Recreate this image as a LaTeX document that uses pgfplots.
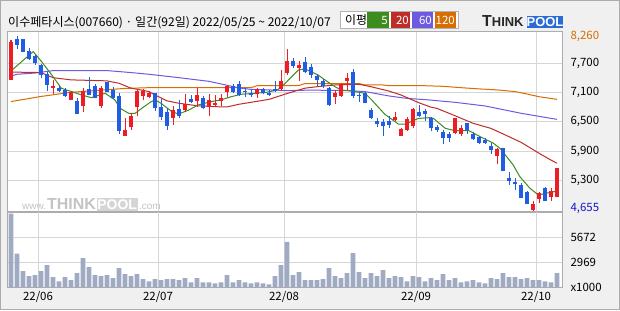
\documentclass[border=0pt]{standalone}
\usepackage{pgfplots}
\pgfplotsset{compat=1.18}
\usepackage{pgfplotstable}
\usepackage{fontspec}
\setmainfont{Noto Sans CJK KR}
\newfontfamily\logofont{Liberation Sans}

\definecolor{bgcol}{RGB}{240,240,240}
\definecolor{upred}{RGB}{238,28,36}
\definecolor{downblue}{RGB}{32,92,228}
\definecolor{volcol}{RGB}{160,170,195}
\definecolor{mafive}{RGB}{60,140,30}
\definecolor{matwenty}{RGB}{190,45,40}
\definecolor{masixty}{RGB}{110,90,225}
\definecolor{maonetwenty}{RGB}{215,110,0}
\definecolor{minblue}{RGB}{20,20,210}
\definecolor{logoblue}{RGB}{42,108,214}
\definecolor{wmgray}{RGB}{195,195,195}

\pgfplotstableread{
i o h l c
0 7358 8179 7358 8131
7 7200 7350 7070 7225
10 6950 7130 6950 7120
12 6820 7190 6710 7140
15 6820 7240 6780 7200
19 6215 6570 6215 6325
20 6395 6675 6340 6625
21 6800 7165 6625 7135
22 7035 7165 6950 7135
23 7000 7140 6980 7085
27 6585 6820 6435 6735
29 6735 7065 6695 6870
31 6925 7185 6805 7045
33 6800 7065 6620 6950
34 6840 7050 6825 6885
35 6925 7075 6830 6980
36 7110 7255 7005 7240
41 7065 7200 6995 7180
45 7175 7570 7130 7345
46 7495 7985 7460 7755
48 7605 7750 7340 7660
54 7010 7145 6865 7085
55 7030 7305 7015 7270
56 7340 7495 7155 7390
64 6540 6710 6515 6605
65 6210 6380 6210 6355
66 6340 6590 6305 6555
67 6405 6780 6370 6755
74 6270 6585 6255 6570
75 6245 6440 6215 6365
81 5790 5955 5630 5940
87 4700 4880 4655 4810
88 4910 5065 4830 5045
90 4950 5135 4880 5090
91 4965 5545 4950 5545
}\upc

\pgfplotstableread{
i o h l c
1 8192 8260 7994 8076
2 8190 8195 7925 7940
3 7960 8020 7770 7790
4 7840 7870 7670 7700
5 7660 7680 7390 7460
6 7490 7530 7130 7250
8 7200 7255 7120 7125
9 7150 7200 7015 7030
11 6935 6980 6660 6660
13 7170 7420 7050 7050
14 7240 7280 6980 6995
16 7310 7325 7105 7120
17 7145 7220 6960 6980
18 7035 7085 6240 6320
24 7100 7100 6720 6780
25 6800 6965 6540 6595
26 6695 6775 6330 6415
28 6755 6950 6585 6620
30 6970 7050 6880 6905
32 6995 7035 6765 6780
37 7230 7270 7085 7120
38 7275 7330 7020 7040
39 7130 7200 7015 7105
40 7100 7165 7010 7055
42 7180 7200 7065 7100
43 7090 7145 7030 7050
44 7180 7345 7120 7140
47 7755 7800 7595 7645
49 7720 7825 7495 7520
50 7630 7680 7405 7460
51 7435 7460 7240 7350
52 7330 7370 7185 7240
53 7190 7210 6825 6840
57 7515 7580 6980 7025
58 7055 7100 6915 7030
59 7085 7105 6880 6885
60 6735 6775 6560 6585
61 6510 6570 6390 6455
62 6490 6560 6210 6410
63 6510 6615 6365 6435
68 6695 6850 6605 6620
69 6720 6765 6520 6665
70 6585 6605 6310 6365
71 6395 6435 6285 6330
72 6300 6330 6035 6160
73 6245 6285 6095 6160
76 6470 6480 6255 6325
77 6245 6300 6120 6140
78 6180 6215 6040 6060
79 6135 6175 6040 6060
80 6005 6060 5835 5915
82 5955 5955 5490 5490
83 5340 5465 5205 5290
84 5260 5340 5105 5230
85 5205 5240 4930 4945
86 5065 5080 4805 4810
89 5150 5170 4875 4880
}\downc

\pgfplotstableread{
i v
0 8195
1 3906
2 2032
3 1491
4 1599
5 2032
6 2681
7 1383
8 951
9 1383
10 1059
11 1816
12 3437
13 2464
14 1599
15 1491
16 1599
17 1275
18 2356
19 1708
20 1491
21 1708
22 1167
23 951
24 1167
25 1059
26 1167
27 1167
28 1059
29 1275
30 843
31 1275
32 843
33 843
34 735
35 843
36 1599
37 843
38 1059
39 843
40 735
41 843
42 735
43 626
44 1491
45 2681
46 5167
47 1599
48 1924
49 1059
50 1059
51 1059
52 1167
53 2356
54 1491
55 1275
56 1816
57 3978
58 1924
59 1275
60 1816
61 1491
62 2140
63 1275
64 1491
65 1383
66 951
67 1491
68 1383
69 951
70 1275
71 1059
72 1708
73 1059
74 1275
75 843
76 951
77 1059
78 843
79 735
80 1275
81 1167
82 1816
83 1383
84 1383
85 1167
86 1275
87 1059
88 1059
89 951
90 843
91 1816
}\vol

\pgfplotsset{
  candle/.style 2 args={draw=none, mark=none, forget plot, color=#1,
    error bars/.cd, y dir=plus, y explicit, error mark=none,
    error bar style={draw=#1, line width=#2, line cap=butt}},
}

\begin{document}
\begin{tikzpicture}[x=1bp,y=1bp]
\useasboundingbox (0,0) rectangle (620,310);
\fill[bgcol] (0,0) rectangle (620,310);
\draw[gray!65, line width=1bp] (0.5,0.5) rectangle (619.5,309.5);
\fill[white] (7.5,22.7) rectangle (562,278);

% watermark
\node[anchor=base west, inner sep=0, text=wmgray] at (22,101)
  {\logofont\fontsize{10}{10}\selectfont www.};
\node[anchor=base west, inner sep=0, text=wmgray] at (47,101)
  {\logofont\bfseries\fontsize{16}{16}\selectfont THINK};
\fill[wmgray!70] (97,99) rectangle (137.5,112);
\node[anchor=base, inner sep=0, text=white] at (117.2,101)
  {\logofont\bfseries\fontsize{14}{14}\selectfont POOL};
\node[anchor=base west, inner sep=0, text=wmgray] at (139,101)
  {\logofont\fontsize{10}{10}\selectfont .com};

% title
\node[anchor=base west, inner sep=0] at (8,283.5)
  {\fontsize{12.1}{12.1}\selectfont 이수페타시스(007660) · 일간(92일) 2022/05/25 \textasciitilde\ 2022/10/07};

% MA legend
\draw[gray!60, fill=white, line width=1bp] (340.5,281.5) rectangle (458.5,298.5);
\node[inner sep=0] at (356,290) {\fontsize{12}{12}\selectfont 이평};
\fill[mafive] (367,282.5) rectangle (389,297.5);
\node[anchor=east, inner sep=0, text=white] at (388,290) {\fontsize{11.5}{11.5}\selectfont 5};
\fill[matwenty] (391,282.5) rectangle (410,297.5);
\node[anchor=east, inner sep=0, text=white] at (409,290) {\fontsize{11.5}{11.5}\selectfont 20};
\fill[masixty] (412,282.5) rectangle (433,297.5);
\node[anchor=east, inner sep=0, text=white] at (432,290) {\fontsize{11.5}{11.5}\selectfont 60};
\fill[maonetwenty] (435,282.5) rectangle (456,297.5);
\node[anchor=east, inner sep=0, text=white] at (455,290) {\fontsize{11.5}{11.5}\selectfont 120};

% logo
\node[anchor=base west, inner sep=0, text=black!85] at (482,283.5)
  {\logofont\bfseries\fontsize{16}{16}\selectfont T\fontsize{13}{13}\selectfont HINK};
\fill[logoblue] (527,282) rectangle (563,293.5);
\node[anchor=base, inner sep=0, text=white] at (545,283.3)
  {\logofont\bfseries\fontsize{13}{13}\selectfont POOL};

% price panel
\begin{axis}[
  at={(7.5bp,98bp)}, anchor=south west, scale only axis,
  width=554.5bp, height=180bp,
  xmin=-0.5833, xmax=91.833, ymin=4650, ymax=8342,
  xtick={4.5,24.5,45.5,67.5,87.5}, xticklabels={},
  ytick={5300,5900,6500,7100,7700},
  yticklabel pos=right,
  grid=major, grid style={gray!32, line width=1bp},
  major tick length=0pt,
  axis line style={gray!65, line width=1bp},
  tick label style={font=\fontsize{11.5}{11.5}\selectfont},
  yticklabel style={anchor=west, xshift=5bp},
  /pgf/number format/assume math mode=true,
  /pgf/number format/1000 sep={,},
  extra y ticks={4655,8260},
  extra y tick labels={\raisebox{9bp}{\textcolor{minblue}{4,655}},\textcolor{maonetwenty}{8,260}},
  extra y tick style={grid=none},
]
\addplot[maonetwenty, line width=1bp] coordinates {(0,6915)(5,7020)(10,7105)(15,7150)(19,7185)(23,7200)(40,7200)(41,7240)(48,7245)(49,7285)(58,7285)(59,7255)(62,7255)(63,7240)(69,7240)(72,7228)(75,7200)(78,7175)(81,7155)(84,7120)(86,7070)(88,7015)(91,6960)};
\addplot[masixty, line width=1bp] coordinates {(0,7440)(1,7475)(4,7500)(7,7550)(16,7550)(20,7510)(23,7475)(28,7405)(33,7330)(36,7250)(38,7195)(40,7165)(44,7150)(46,7140)(50,7150)(56,7140)(59,7120)(63,7030)(66,6980)(69,6955)(74,6900)(79,6825)(85,6675)(91,6550)};
\addplot[matwenty, line width=1bp] coordinates {(0,7520)(5,7510)(7,7405)(10,7360)(16,7340)(18,7290)(19,7240)(20,7190)(22,7145)(23,7120)(24,7050)(26,6930)(28,6880)(31,6830)(34,6810)(36,6805)(38,6860)(40,6900)(43,6960)(46,7080)(49,7190)(51,7220)(54,7255)(58,7270)(60,7220)(63,7130)(65,7050)(68,6890)(70,6800)(71,6775)(74,6625)(77,6470)(80,6365)(83,6195)(85,6080)(88,5855)(90,5715)(91,5650)};
\addplot[mafive, line width=1bp] coordinates {(0,7543)(3.7,7940)(5.1,7735)(6.8,7460)(8.4,7187)(10.1,7119)(11.8,7050)(13.4,6995)(15.7,7085)(17.3,6950)(18.2,6777)(19.6,6675)(20.7,6675)(21.8,6777)(23.2,6900)(24,6950)(25,6880)(26.8,6710)(27.9,6660)(29.6,6740)(31.2,6845)(33.4,6915)(35,6950)(36.7,7015)(38.4,7065)(40.7,7085)(42.3,7100)(44.4,7150)(45.7,7290)(47.9,7565)(49,7585)(51.2,7460)(52.3,7360)(54,7220)(55,7155)(56.8,7130)(59,7085)(60.1,6950)(62.3,6655)(64.6,6450)(65.7,6450)(67.9,6570)(69.8,6585)(70.4,6570)(72.4,6365)(74,6320)(76.3,6320)(78.2,6195)(80.4,6060)(81.5,5955)(83.7,5615)(84.8,5375)(86.5,5135)(87.9,5000)(89.2,5035)(90.4,5065)(91,5080)};
% wicks
\addplot[candle={upred}{1bp}] table[x=i, y=l, y error plus expr={\thisrow{h}-\thisrow{l}}] {\upc};
\addplot[candle={downblue}{1bp}] table[x=i, y=l, y error plus expr={\thisrow{h}-\thisrow{l}}] {\downc};
% bodies
\addplot[candle={upred}{4.8bp}] table[x=i, y=o, y error plus expr={\thisrow{c}-\thisrow{o}}] {\upc};
\addplot[candle={downblue}{4.8bp}] table[x=i, y=c, y error plus expr={\thisrow{o}-\thisrow{c}}] {\downc};
\end{axis}

% volume panel
\begin{axis}[
  at={(7.5bp,22.7bp)}, anchor=south west, scale only axis,
  width=554.5bp, height=75.3bp,
  xmin=-0.5833, xmax=91.833, ymin=302, ymax=8375,
  xtick={4.5,24.5,45.5,67.5,87.5},
  xticklabels={22/06,22/07,22/08,22/09,22/10},
  ytick={2969,5672}, yticklabels={2969,5672},
  yticklabel pos=right,
  grid=major, grid style={gray!32, line width=1bp},
  major tick length=0pt,
  axis line style={gray!65, line width=1bp},
  tick label style={font=\fontsize{11.5}{11.5}\selectfont},
  yticklabel style={anchor=west, xshift=5bp},
  xticklabel style={yshift=-1bp},
  extra y ticks={302}, extra y tick labels={x1000},
  extra y tick style={grid=none},
]
\addplot[ybar, bar width=4.8bp, fill=volcol, draw=none] table[x=i, y=v] {\vol};
\end{axis}
\end{tikzpicture}
\end{document}
